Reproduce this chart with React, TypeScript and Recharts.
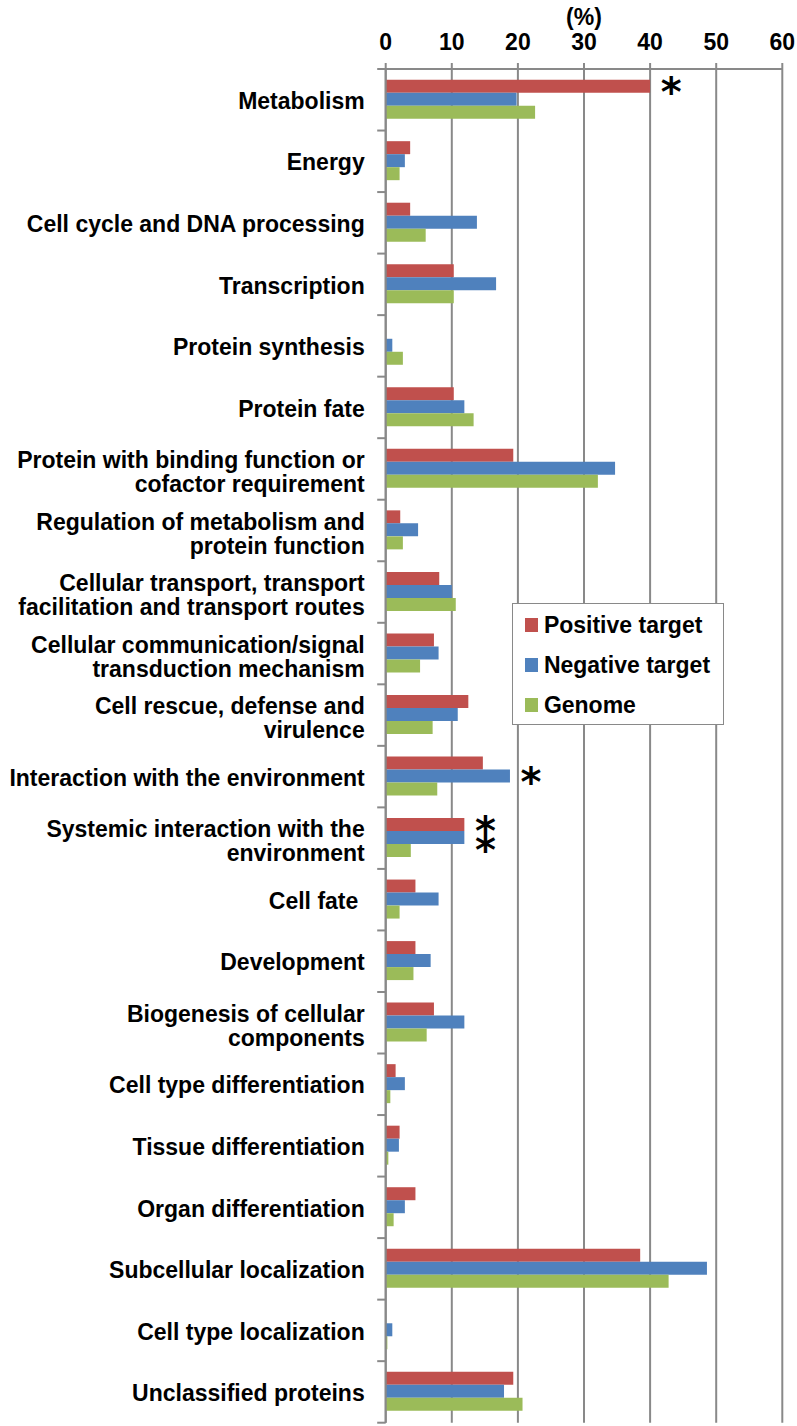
import React from 'react';
import { BarChart, Bar, XAxis, YAxis, CartesianGrid, Legend, LabelList } from 'recharts';

const categories = [
  'Metabolism',
  'Energy',
  'Cell cycle and DNA processing',
  'Transcription',
  'Protein synthesis',
  'Protein fate',
  'Protein with binding function or\ncofactor requirement',
  'Regulation of metabolism and\nprotein function',
  'Cellular transport, transport\nfacilitation and transport routes',
  'Cellular communication/signal\ntransduction mechanism',
  'Cell rescue, defense and\nvirulence',
  'Interaction with the environment',
  'Systemic interaction with the\nenvironment',
  'Cell fate\u00a0',
  'Development',
  'Biogenesis of cellular\ncomponents',
  'Cell type differentiation',
  'Tissue differentiation',
  'Organ differentiation',
  'Subcellular localization',
  'Cell type localization',
  'Unclassified proteins',
];

const positiveTarget = [40.0, 3.7, 3.7, 10.3, 0, 10.3, 19.3, 2.2, 8.1, 7.3, 12.5, 14.7, 11.9, 4.5, 4.5, 7.3, 1.5, 2.1, 4.5, 38.5, 0, 19.3];
const negativeTarget = [19.8, 2.9, 13.8, 16.7, 1.0, 11.9, 34.7, 4.9, 10.0, 8.0, 10.9, 18.8, 11.9, 8.0, 6.8, 11.9, 2.9, 2.0, 2.9, 48.6, 1.0, 17.9];
const genome = [22.6, 2.1, 6.05, 10.3, 2.6, 13.3, 32.1, 2.6, 10.6, 5.2, 7.1, 7.8, 3.8, 2.1, 4.2, 6.2, 0.7, 0.4, 1.2, 42.8, 0.25, 20.7];

const positiveMark = ['*', '', '', '', '', '', '', '', '', '', '', '', '*', '', '', '', '', '', '', '', '', ''];
const negativeMark = ['', '', '', '', '', '', '', '', '', '', '', '*', '*', '', '', '', '', '', '', '', '', ''];

const seriesNames = ['Positive target', 'Negative target', 'Genome'];
const seriesColors = ['#C0504D', '#4F81BD', '#9BBB59'];
const xTicks = [0, 10, 20, 30, 40, 50, 60];
const axisTitle = '(%)';

const data = categories.map((name, i) => ({
  name,
  pos: positiveTarget[i],
  neg: negativeTarget[i],
  gen: genome[i],
  posMark: positiveMark[i],
  negMark: negativeMark[i],
}));

const W = 797;
const H = 1426;
const TOP = 69;
const BOTTOM = 3.3;
const LEFT = 385.7;
const RIGHT = 14.7;
const BAND = (H - TOP - BOTTOM) / categories.length;
const GRAY = '#898989';
const FONT = '"Liberation Sans", Arial, Helvetica, sans-serif';
const LABEL_MARGIN = 21;

const CategoryTick = (props: any) => {
  const { x, y, payload, index } = props;
  const lines = String(payload.value).split('\n');
  const lh = 24;
  const n = lines.length;
  const base = y - ((n - 1) * lh) / 2 + 8.2 + (n > 1 ? 3 : 1);
  const axisX = x + LABEL_MARGIN;
  const isLast = index === categories.length - 1;
  return (
    <g>
      <line x1={axisX - 8.5} x2={axisX} y1={y - BAND / 2} y2={y - BAND / 2} stroke={GRAY} strokeWidth={2} />
      {isLast && (
        <line x1={axisX - 8.5} x2={axisX} y1={y + BAND / 2} y2={y + BAND / 2} stroke={GRAY} strokeWidth={2} />
      )}
      <text x={x} y={base} textAnchor="end" fill="#000" fontSize={23} fontWeight="bold" fontFamily={FONT}>
        {lines.map((l, i) => (
          <tspan key={i} x={x} y={base + i * lh}>
            {l}
          </tspan>
        ))}
      </text>
    </g>
  );
};

const makeStar = (series: 'pos' | 'neg') => (props: any) => {
  const vb = props.viewBox || {};
  const x = props.x ?? vb.x;
  const y = props.y ?? vb.y;
  const width = props.width ?? vb.width;
  const height = props.height ?? vb.height;
  const value = props.value;
  if (!value) return null;
  const idx = props.index;
  const both = typeof idx === 'number' && positiveMark[idx] && negativeMark[idx];
  const nudge = both ? (series === 'pos' ? -2 : 6) : 0;
  return (
    <text
      x={x + width + 21}
      y={y + height / 2 + 20 + nudge}
      textAnchor="middle"
      fill="#000"
      fontSize={40}
      fontWeight="bold"
      fontFamily='"DejaVu Sans", sans-serif'
    >
      {value}
    </text>
  );
};

const renderLegend = (props: any) => {
  const payload = [...((props.payload || []) as any[])].sort(
    (a, b) => seriesNames.indexOf(String(a.value)) - seriesNames.indexOf(String(b.value))
  );
  return (
    <div
      style={{
        width: 212,
        height: 122,
        border: `1.5px solid ${GRAY}`,
        background: '#fff',
        boxSizing: 'border-box',
        position: 'relative',
      }}
    >
      {payload.map((item: any, i: number) => (
        <div
          key={String(item.value)}
          style={{
            position: 'absolute',
            left: 12.5,
            top: 6.5 + i * 40,
            height: 28,
            display: 'flex',
            alignItems: 'center',
            whiteSpace: 'nowrap',
          }}
        >
          <span style={{ display: 'inline-block', width: 12.7, height: 13.5, background: item.color, marginRight: 6 }} />
          <span style={{ fontFamily: FONT, fontWeight: 'bold', fontSize: 23, color: '#000', lineHeight: '28px' }}>
            {item.value}
          </span>
        </div>
      ))}
    </div>
  );
};

export default function App() {
  return (
    <div style={{ position: 'absolute', left: 0, top: 0, width: W, height: H, background: '#fff' }}>
      <BarChart
        width={W}
        height={H}
        data={data}
        layout="vertical"
        margin={{ top: 25, right: RIGHT, bottom: BOTTOM, left: 0 }}
        barCategoryGap="17.3%"
        barGap={0}
      >
        <CartesianGrid horizontal={false} vertical stroke={GRAY} strokeWidth={2} />
        <XAxis
          type="number"
          orientation="top"
          domain={[0, 60]}
          ticks={xTicks}
          height={TOP - 25}
          tickSize={6}
          tickMargin={13}
          axisLine={{ stroke: GRAY, strokeWidth: 2 }}
          tickLine={{ stroke: GRAY, strokeWidth: 2 }}
          tick={{ fill: '#000', fontSize: 23, fontWeight: 'bold', fontFamily: FONT }}
          label={{ value: axisTitle, position: 'top', offset: 0, fill: '#000', fontSize: 23, fontWeight: 'bold', fontFamily: FONT }}
        />
        <XAxis
          xAxisId="bottom"
          type="number"
          orientation="bottom"
          domain={[0, 60]}
          ticks={xTicks}
          height={0}
          tick={false}
          tickLine={false}
          axisLine={{ stroke: GRAY, strokeWidth: 2 }}
        />
        <YAxis
          type="category"
          dataKey="name"
          width={LEFT}
          tickLine={false}
          tickSize={0}
          tickMargin={LABEL_MARGIN}
          axisLine={{ stroke: GRAY, strokeWidth: 2 }}
          tick={<CategoryTick />}
          interval={0}
        />
        <Legend
          layout="horizontal"
          verticalAlign="middle"
          align="center"
          content={renderLegend}
          wrapperStyle={{ left: 511.7, top: 603.3, width: 212, height: 122 }}
        />
        <Bar dataKey="pos" name={seriesNames[0]} fill={seriesColors[0]} isAnimationActive={false}>
          <LabelList dataKey="posMark" content={makeStar('pos')} />
        </Bar>
        <Bar dataKey="neg" name={seriesNames[1]} fill={seriesColors[1]} isAnimationActive={false}>
          <LabelList dataKey="negMark" content={makeStar('neg')} />
        </Bar>
        <Bar dataKey="gen" name={seriesNames[2]} fill={seriesColors[2]} isAnimationActive={false} />
      </BarChart>
    </div>
  );
}
